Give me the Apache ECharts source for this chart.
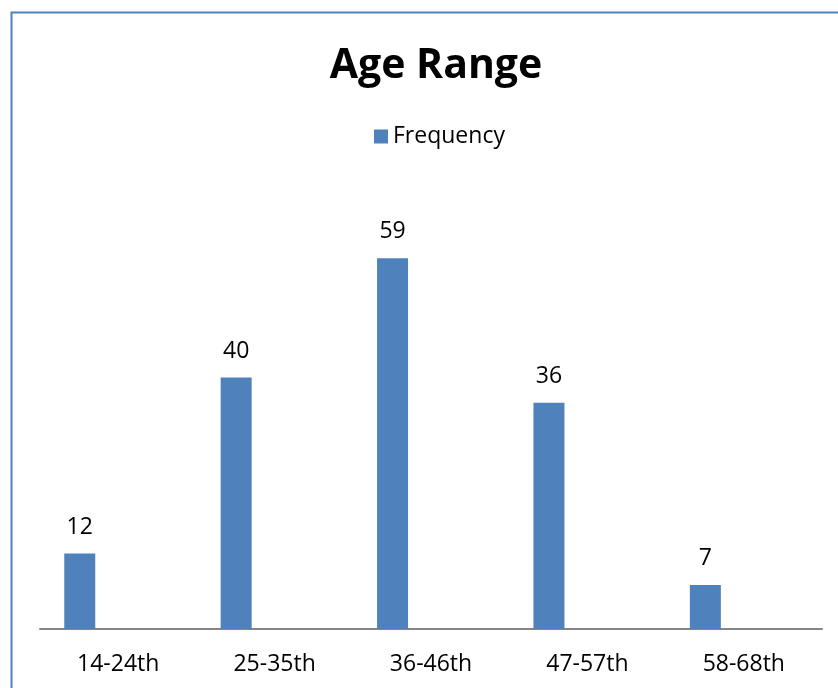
<!DOCTYPE html>
<html>
<head>
<meta charset="utf-8">
<style>
  html, body { margin: 0; padding: 0; background: #fff; }
  #chart { width: 838px; height: 688px; }
</style>
<script src="https://cdn.jsdelivr.net/npm/echarts@6/dist/echarts.min.js"></script>
</head>
<body>
<div id="chart"></div>
<script>
// Age groups and how many respondents fall in each
const categories = ['14-24th', '25-35th', '36-46th', '47-57th', '58-68th'];
const frequency = [12, 40, 59, 36, 7];
// Empty companion series keeps each bar on the left of its slot
const spacer = [null, null, null, null, null];

const chart = echarts.init(document.getElementById('chart'), null, { renderer: 'canvas' });
const font = '"Open Sans", "Liberation Sans", sans-serif';

chart.setOption({
  animation: false,
  backgroundColor: '#ffffff',
  title: {
    text: 'Age Range',
    left: 431,
    textAlign: 'center',
    top: 41,
    textStyle: { fontFamily: font, fontSize: 41, fontWeight: 'bold', color: '#000' }
  },
  legend: {
    data: ['Frequency'],
    top: 120,
    left: 369,
    icon: 'rect',
    itemWidth: 14,
    itemHeight: 14,
    itemGap: 6,
    textStyle: { fontFamily: font, fontSize: 23, color: '#000' }
  },
  graphic: [{
    type: 'rect',
    shape: { x: 11.5, y: 12.5, width: 860, height: 700 },
    style: { fill: 'none', stroke: '#4F81BD', lineWidth: 2 },
    silent: true
  }],
  grid: { left: 40, right: 16, top: 189, bottom: 59 },
  xAxis: {
    type: 'category',
    data: categories,
    axisLine: { lineStyle: { color: '#868686', width: 2 } },
    axisTick: { show: false },
    axisLabel: { fontFamily: font, fontSize: 23, color: '#000', margin: 24 }
  },
  yAxis: {
    type: 'value',
    min: 0,
    max: 70,
    interval: 10,
    show: false,
    splitLine: { show: false }
  },
  series: [
    {
      name: 'Frequency',
      type: 'bar',
      data: frequency,
      barWidth: 31,
      barGap: '148%',
      itemStyle: { color: '#4F81BD' },
      label: {
        show: true,
        position: 'top',
        distance: 15,
        fontFamily: font,
        fontSize: 23,
        color: '#000'
      }
    },
    {
      name: 'spacer',
      type: 'bar',
      data: spacer,
      barWidth: 31,
      itemStyle: { color: 'rgba(0,0,0,0)' },
      silent: true
    }
  ]
});
</script>
</body>
</html>
